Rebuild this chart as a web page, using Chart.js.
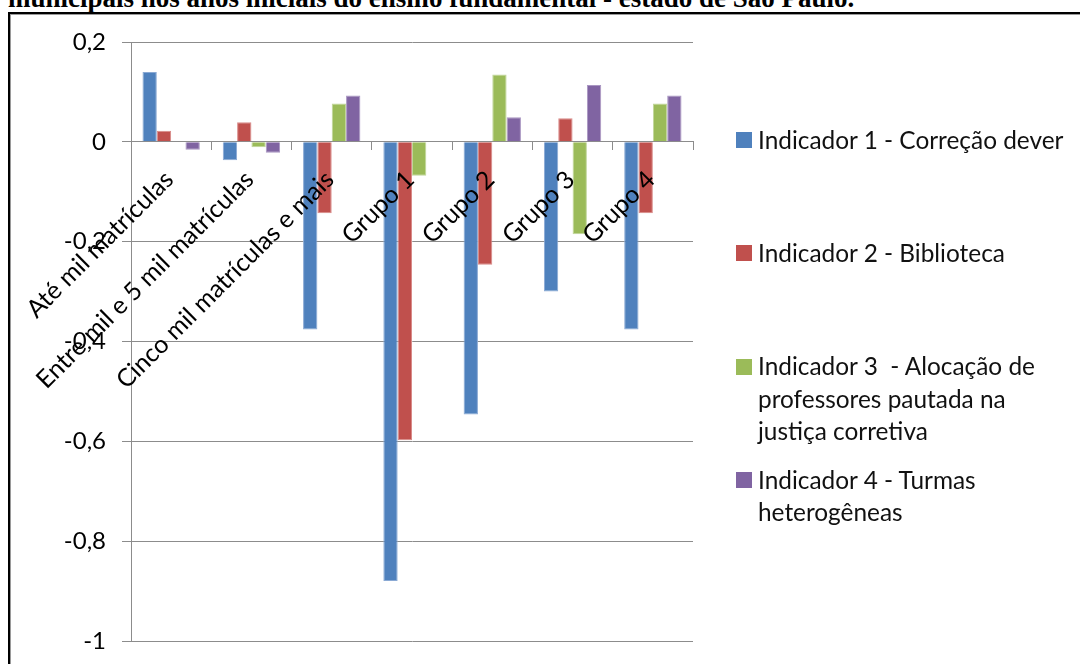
<!DOCTYPE html>
<html>
<head>
<meta charset="utf-8">
<script src="https://cdn.jsdelivr.net/npm/chart.js@4/dist/chart.umd.min.js"></script>
<style>
  html, body { margin: 0; padding: 0; background: #fff; }
  #wrap { position: relative; width: 1080px; height: 664px; overflow: hidden; }
  #heading {
    position: absolute; left: 8px; top: -15px;
    font: bold 27px "Liberation Serif", "Times New Roman", serif;
    line-height: 27px; white-space: nowrap; color: #000;
  }
  #frame {
    position: absolute; left: 8px; top: 12px; width: 1100px; height: 700px;
    border-top: 2px solid #000; border-left: 2px solid #000;
    box-shadow: inset 1px 1px 0 #9a9a9a;
  }
  #c { position: absolute; left: 0; top: 0; }
  #legend { position: absolute; left: 0; top: 0; font: 24.4px Lato, sans-serif; color: #111; }
  .item { position: absolute; left: 758px; line-height: 32.5px; white-space: pre; }
  .sw { position: absolute; left: 736px; width: 16px; height: 16px; }
</style>
</head>
<body>
<div id="wrap">
  <div id="frame"></div>
  <div id="heading">municipais nos anos iniciais do ensino fundamental - estado de São Paulo.</div>
  <canvas id="c" width="1080" height="664"></canvas>
  <div id="legend"></div>
</div>
<script>
// Municipal groups / network sizes
const categories = [
  'Até mil matrículas',
  'Entre mil e 5 mil matrículas',
  'Cinco mil matrículas e mais',
  'Grupo 1', 'Grupo 2', 'Grupo 3', 'Grupo 4'
];

// Series names, split into the lines shown in the legend
const seriesLines = [
  ['Indicador 1 - Correção dever'],
  ['Indicador 2 - Biblioteca'],
  ['Indicador 3  - Alocação de', 'professores pautada na', 'justiça corretiva'],
  ['Indicador 4 - Turmas', 'heterogêneas']
];

// Indicator values per category
const indicador1 = [0.140, -0.037, -0.376, -0.880, -0.546, -0.300, -0.376];
const indicador2 = [0.022,  0.039, -0.143, -0.598, -0.246,  0.047, -0.143];
const indicador3 = [0.000, -0.011,  0.077, -0.068,  0.135, -0.185,  0.077];
const indicador4 = [-0.016, -0.022, 0.093,  0.000,  0.049,  0.114,  0.093];

// Value axis ticks
const yTickValues = [0.2, 0, -0.2, -0.4, -0.6, -0.8, -1];
const yTickLabels = ['0,2', '0', '-0,2', '-0,4', '-0,6', '-0,8', '-1'];

const fills   = ['#4F81BD', '#C0504D', '#9BBB59', '#8064A2'];
const borders = ['#8AA9D4', '#D98A88', '#C0D69A', '#A996C2'];
const seriesValues = [indicador1, indicador2, indicador3, indicador4];
const seriesNames = seriesLines.map(l => l.join(' '));

const gridColor = '#8C8C8C';
const tickFont = { family: 'Lato', size: 24 };
const categoryFont = { family: 'Lato', size: 25 };

function build() {
  const ctx = document.getElementById('c').getContext('2d');
  const chart = new Chart(ctx, {
    type: 'bar',
    data: {
      labels: categories,
      datasets: seriesValues.map((vals, i) => ({
        label: seriesNames[i],
        data: vals,
        backgroundColor: fills[i],
        borderColor: borders[i],
        borderWidth: 1,
        categoryPercentage: 0.714,
        barPercentage: 1.0
      }))
    },
    options: {
      responsive: false,
      animation: false,
      devicePixelRatio: 1,
      layout: { padding: { left: 0, top: 42, right: 387, bottom: 23 } },
      plugins: { legend: { display: false }, tooltip: { enabled: false } },
      scales: {
        x: {
          position: { y: 0 },
          grid: { drawOnChartArea: false, drawTicks: true, tickLength: 8, color: gridColor, offset: true },
          border: { color: gridColor, width: 1 },
          ticks: {
            z: 1,
            autoSkip: false, minRotation: 45, maxRotation: 45,
            padding: 15, labelOffset: -2,
            color: '#000', font: categoryFont
          },
          afterFit(s) {
            s.height = 0;
            s.paddingLeft = 0; s.paddingRight = 0; s.paddingTop = 0; s.paddingBottom = 0;
          }
        },
        y: {
          min: -1, max: 0.2,
          afterBuildTicks(s) { s.ticks = yTickValues.map(v => ({ value: v })); },
          afterFit(s) { s.width = 131; s.paddingTop = 0; s.paddingBottom = 0; },
          grid: { color: gridColor, tickLength: 9 },
          border: { color: gridColor, width: 1 },
          ticks: {
            padding: 16, color: '#000', font: tickFont,
            callback(v) {
              const k = yTickValues.findIndex(t => Math.abs(t - v) < 1e-9);
              return k >= 0 ? yTickLabels[k] : '';
            }
          }
        }
      }
    }
  });

  // Legend to the right of the plot, one block per series
  const legend = document.getElementById('legend');
  const firstLineCenter = 140, step = 113.3, lineH = 32.5;
  chart.data.datasets.forEach((ds, i) => {
    const cy = firstLineCenter + i * step;
    const sw = document.createElement('div');
    sw.className = 'sw';
    sw.style.top = (cy - 8) + 'px';
    sw.style.background = ds.backgroundColor;
    legend.appendChild(sw);
    const it = document.createElement('div');
    it.className = 'item';
    it.style.top = (cy - lineH / 2) + 'px';
    it.textContent = seriesLines[i].join('\n');
    legend.appendChild(it);
  });
}

document.fonts.load('24px Lato').then(build, build);
</script>
</body>
</html>
